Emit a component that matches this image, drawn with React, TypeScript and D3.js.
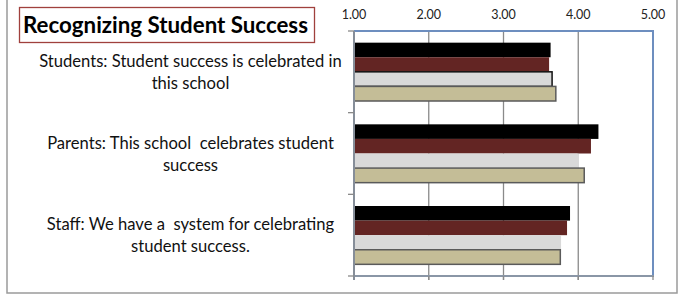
import React from "react";
import * as d3 from "d3";

const categories = [
  ["Students: Student success is celebrated in", "this school"],
  ["Parents: This school  celebrates student", "success"],
  ["Staff: We have a  system for celebrating", "student success."],
];
const seriesNames = ["s1", "s2", "s3", "s4"];
const values = [
  [3.63, 4.27, 3.89],
  [3.61, 4.17, 3.85],
  [3.65, 4.01, 3.77],
  [3.70, 4.08, 3.76],
];
const ticks = [1, 2, 3, 4, 5];
const colors = ["#000000", "#632523", "#d9d9d9", "#c4bd97"];

export default function App() {
  const ref = React.useRef<SVGSVGElement>(null);
  React.useEffect(() => {
    const width = 680;
    const height = 298;
    const left = 354;
    const right = 653;
    const top = 31;
    const bottom = 276;

    const svg = d3.select(ref.current);
    svg.selectAll("*").remove();

    // outer frame
    svg.append("rect")
      .attr("x", 7).attr("y", -2).attr("width", 670).attr("height", 295)
      .attr("fill", "white").attr("stroke", "#9a9a9a").attr("stroke-width", 1.5);

    const x = d3.scaleLinear().domain([1, 5]).range([left, right]);
    const y = d3.scaleBand<number>().domain([0, 1, 2]).range([top, bottom]);
    const inner = d3.scaleBand<number>()
      .domain(d3.range(seriesNames.length))
      .range([0, y.bandwidth()])
      .paddingOuter(0.8)
      .paddingInner(0);

    // gridlines
    svg.append("g").selectAll("line")
      .data(ticks.slice(1, -1))
      .join("line")
      .attr("x1", (d) => x(d)).attr("x2", (d) => x(d))
      .attr("y1", top).attr("y2", bottom + 4)
      .attr("stroke", "#8a8a8a").attr("stroke-width", 1.3);

    // plot border top/right
    svg.append("path")
      .attr("d", `M${left},${top}H${right}V${bottom}`)
      .attr("fill", "none").attr("stroke", "#6d8ebf").attr("stroke-width", 2);

    // bars
    seriesNames.forEach((s, i) => {
      svg.append("g").selectAll("rect")
        .data(values[i])
        .join("rect")
        .attr("x", left)
        .attr("y", (_, j) => y(j)! + inner(i)!)
        .attr("width", (d) => x(d) - left)
        .attr("height", inner.bandwidth())
        .attr("fill", colors[i])
        .attr("stroke", (_, j) => (i === 3 ? "#5a5a5a" : i === 2 && j === 0 ? "#111" : "none"))
        .attr("stroke-width", 1.5);
    });

    // bottom axis
    svg.append("line")
      .attr("x1", left).attr("x2", right + 1)
      .attr("y1", bottom).attr("y2", bottom)
      .attr("stroke", "#8a96a6").attr("stroke-width", 2);
    svg.append("g").selectAll("line")
      .data(ticks)
      .join("line")
      .attr("x1", (d) => x(d)).attr("x2", (d) => x(d))
      .attr("y1", bottom).attr("y2", bottom + 4)
      .attr("stroke", "#8a8a8a").attr("stroke-width", 1.3);

    // left axis
    svg.append("line")
      .attr("x1", left).attr("x2", left)
      .attr("y1", top).attr("y2", bottom + 4)
      .attr("stroke", "#868e99").attr("stroke-width", 2);
    svg.append("g").selectAll("line")
      .data([0, 1, 2, 3])
      .join("line")
      .attr("x1", left - 6).attr("x2", left)
      .attr("y1", (d) => top + d * y.step()).attr("y2", (d) => top + d * y.step())
      .attr("stroke", "#8a8a8a").attr("stroke-width", 1.3);

    // top tick labels
    svg.append("g").selectAll("text")
      .data(ticks)
      .join("text")
      .attr("x", (d) => x(d))
      .attr("y", 19)
      .attr("text-anchor", "middle")
      .attr("font-family", "Lato, sans-serif")
      .attr("font-size", 12.5)
      .attr("fill", "#222")
      .text((d) => d.toFixed(2));

    // category labels
    const cat = svg.append("g").selectAll("text")
      .data(categories)
      .join("text")
      .attr("text-anchor", "middle")
      .attr("font-family", "Lato, sans-serif")
      .attr("font-size", 16.6)
      .attr("fill", "#111")
      .style("white-space", "pre");
    cat.each(function (lines, j) {
      const cy = y(j)! + y.bandwidth() / 2;
      d3.select(this).selectAll("tspan")
        .data(lines)
        .join("tspan")
        .attr("x", 190.5)
        .attr("y", (_, k) => cy - 11 + k * 22 + 6)
        .text((t) => t);
    });

    // title
    svg.append("rect")
      .attr("x", 19.5).attr("y", 7.5).attr("width", 295).attr("height", 35)
      .attr("fill", "white").attr("stroke", "#a0403d").attr("stroke-width", 1.3);
    svg.append("text")
      .attr("x", 165.5).attr("y", 32.5)
      .attr("text-anchor", "middle")
      .attr("font-family", "Lato, sans-serif")
      .attr("font-weight", "bold")
      .attr("font-size", 22.3)
      .attr("fill", "#000")
      .text("Recognizing Student Success");

    svg.attr("width", width).attr("height", height);
  }, []);

  return (
    <svg
      ref={ref}
      width={680}
      height={298}
      style={{ position: "absolute", left: 0, top: 0, background: "white" }}
    ></svg>
  );
}
